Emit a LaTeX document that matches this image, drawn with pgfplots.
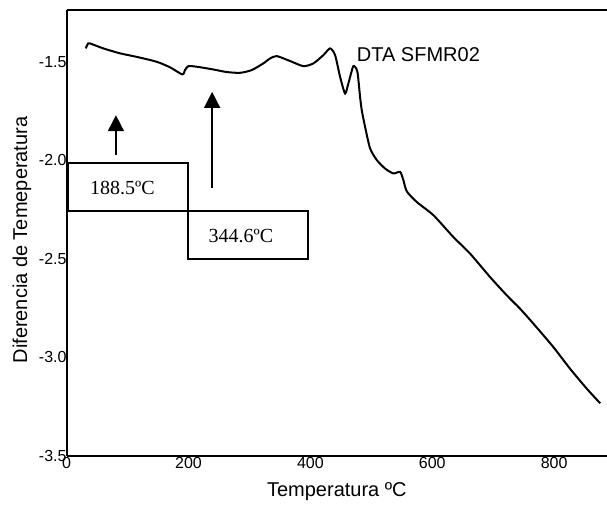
\documentclass[border=0pt]{standalone}
\usepackage{fontspec}
\setmainfont{Liberation Sans}
\newfontfamily\timesf{Liberation Serif}
\usepackage{pgfplots}
\pgfplotsset{compat=1.18}
\usetikzlibrary{arrows.meta}
\pgfplotstableread{
x y
31.2 -1.432
35.5 -1.406
41.0 -1.410
60.1 -1.432
87.5 -1.457
114.9 -1.475
147.8 -1.500
169.6 -1.528
189.8 -1.564
194.2 -1.542
199.6 -1.522
213.4 -1.525
240.7 -1.539
262.7 -1.552
284.5 -1.556
303.7 -1.542
322.8 -1.508
333.8 -1.483
344.8 -1.471
366.6 -1.496
388.4 -1.522
404.9 -1.508
421.3 -1.466
432.3 -1.432
440.5 -1.466
448.7 -1.576
456.9 -1.661
462.3 -1.610
470.5 -1.522
477.1 -1.551
481.5 -1.678
484.3 -1.746
489.7 -1.830
498.0 -1.940
509.0 -1.999
522.6 -2.042
536.2 -2.067
547.2 -2.059
552.6 -2.101
558.2 -2.158
574.6 -2.212
601.9 -2.279
634.7 -2.390
662.1 -2.474
694.9 -2.593
722.4 -2.686
744.2 -2.754
766.1 -2.830
798.9 -2.949
826.3 -3.059
853.7 -3.160
875.6 -3.234
}\dta
\begin{document}
\begin{tikzpicture}
\useasboundingbox (-66.7pt,-48.3pt) rectangle (540.3pt,455.7pt);
\begin{axis}[
  at={(0,0)}, anchor=south west,
  scale only axis, width=540.3pt, height=445.7pt,
  xmin=0, xmax=886.8, ymin=-3.5, ymax=-1.237,
  axis x line=box, axis y line=left,
  axis line style={-, line width=2pt},
  major tick length=0pt,
  xtick={0,200,400,600,800},
  ytick={-3.5,-3,-2.5,-2,-1.5},
  yticklabels={-3.5,-3.0,-2.5,-2.0,-1.5},
  /pgf/number format/assume math mode=true,
  tick label style={font=\fontsize{16}{18}\selectfont},
  yticklabel style={inner sep=0pt},
  xticklabel style={inner sep=1pt},
  xlabel={Temperatura ºC},
  ylabel={Diferencia de  Temeperatura},
  label style={font=\fontsize{20}{24}\selectfont},
  xlabel style={at={(axis description cs:0.5,-0.08)}, anchor=center},
  ylabel style={at={(axis description cs:-0.0827,0.484)}, anchor=center},
  clip=false,
]
\addplot[black, line width=2pt, smooth, tension=0.4] table[x=x,y=y]{\dta};
\node[anchor=base west, inner sep=0pt, font=\fontsize{20}{24}\selectfont] at (axis cs:476,-1.497) {DTA SFMR02};
\draw[line width=2pt] (axis cs:2.6,-2.0135) rectangle (axis cs:199.6,-2.2575);
\draw[line width=2pt] (axis cs:199.6,-2.2575) rectangle (axis cs:396.7,-2.4995);
\node[anchor=base west, inner sep=0pt, font=\timesf\fontsize{20}{24}\selectfont] at (axis cs:38.3,-2.1726) {188.5ºC};
\node[anchor=base west, inner sep=0pt, font=\timesf\fontsize{20}{24}\selectfont] at (axis cs:232.5,-2.415) {344.6ºC};
\draw[line width=1.5pt, -{Triangle[length=16pt,width=16pt]}] (axis cs:80.8,-1.974) -- (axis cs:80.8,-1.771);
\draw[line width=1.5pt, -{Triangle[length=16pt,width=16pt]}] (axis cs:238.7,-2.1406) -- (axis cs:238.7,-1.6525);
\end{axis}
\end{tikzpicture}
\end{document}
